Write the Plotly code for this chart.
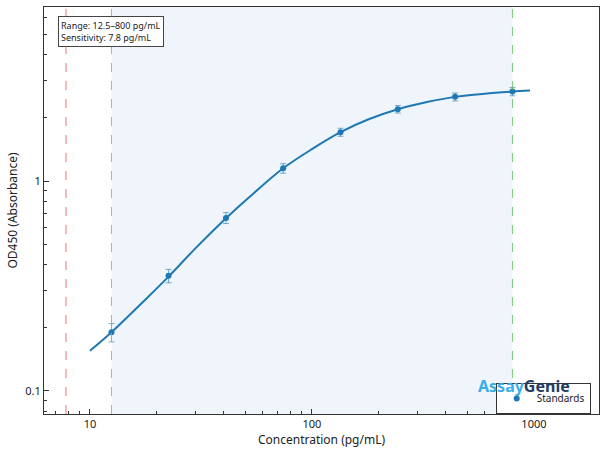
import plotly.graph_objects as go

# standards (pg/mL) and mean OD450
conc = [12.5, 22.6, 41.0, 74.2, 134.5, 243.6, 441.3, 800]
od = [0.190, 0.353, 0.667, 1.15, 1.71, 2.20, 2.52, 2.67]
od_err = [0.019, 0.026, 0.040, 0.060, 0.075, 0.090, 0.110, 0.120]

# fitted curve
curve_x = [10, 12.5, 17, 22.6, 30, 41, 55, 74.2, 100, 134.5, 180, 243.6, 330, 441.3, 600, 800, 960]
curve_y = [0.155, 0.190, 0.260, 0.350, 0.480, 0.665, 0.880, 1.15, 1.42, 1.71, 1.97, 2.20, 2.38, 2.52, 2.61, 2.67, 2.70]

sensitivity = 7.8
range_lo = 12.5
range_hi = 800

blue = "#1f77b4"
font = "Noto Sans"

# minor tick positions on the log axes
x_minor = [7, 8, 9, 20, 30, 40, 50, 60, 70, 80, 90, 200, 300, 400, 500, 600, 700, 800, 900]
y_minor = [0.08, 0.09, 0.2, 0.3, 0.4, 0.5, 0.6, 0.7, 0.8, 0.9, 2, 3, 4, 5, 6]

x_range = [0.793, 3.293]
y_range = [-1.111, 0.830]

fig = go.Figure()

fig.add_trace(go.Scatter(
    x=curve_x, y=curve_y, mode="lines", line=dict(color=blue, width=2, shape="spline"),
    showlegend=False, hoverinfo="skip"))

fig.add_trace(go.Scatter(
    x=conc, y=od, mode="markers", name="Standards",
    marker=dict(color=blue, size=6),
    error_y=dict(type="data", array=od_err, color="rgba(31,119,180,0.6)", thickness=1, width=3)))

# empty trace so the minor-tick axes get drawn
fig.add_trace(go.Scatter(x=[], y=[], xaxis="x2", yaxis="y2", showlegend=False, hoverinfo="skip"))

# assay range shading and reference lines
fig.add_vrect(x0=range_lo, x1=range_hi, fillcolor="rgba(31,119,180,0.07)", line_width=0, layer="below")
fig.add_vline(x=sensitivity, line=dict(color="rgba(235,90,90,0.7)", width=1.2, dash="dash"))
fig.add_vline(x=range_lo, line=dict(color="rgba(240,150,70,0.9)", width=1, dash="dash"))
fig.add_vline(x=range_hi, line=dict(color="rgba(90,190,90,0.8)", width=1, dash="dash"))

fig.add_annotation(
    xref="paper", yref="paper", x=0.025, y=0.977, xanchor="left", yanchor="top",
    text="Range: 12.5–800 pg/mL<br>Sensitivity: 7.8 pg/mL", showarrow=False, align="left",
    font=dict(size=9, color="#222", family=font), bgcolor="white",
    bordercolor="#444", borderwidth=1, borderpad=2)

fig.add_annotation(
    xref="paper", yref="paper", x=0.952, y=0.037, xanchor="right", yanchor="bottom",
    text="<b><span style='color:#3aaee6'>Assay</span><span style='color:#1f3d63'>Genie</span></b>",
    showarrow=False, font=dict(size=16, family=font))

axis_common = dict(
    type="log", showline=True, mirror=True, linecolor="#333", linewidth=1.2,
    ticks="inside", ticklen=5, tickcolor="#333", showgrid=False, zeroline=False,
    automargin=False,
    tickfont=dict(size=11, color="#222", family=font))

fig.update_xaxes(axis_common, range=x_range, dtick=1,
                 title=dict(text="Concentration (pg/mL)", font=dict(size=12, family=font, color="#222"), standoff=2))
fig.update_yaxes(axis_common, range=y_range, dtick=1,
                 title=dict(text="OD450 (Absorbance)", font=dict(size=12, family=font, color="#222"), standoff=4))

minor_common = dict(type="log", tickmode="array", ticks="inside", ticklen=3, tickcolor="#333",
                    showticklabels=False, showgrid=False, showline=False, zeroline=False,
                    automargin=False)

fig.update_layout(
    width=608, height=455, plot_bgcolor="white", paper_bgcolor="white",
    margin=dict(l=44, r=9, t=7, b=41),
    font=dict(family=font, size=11, color="#222"),
    xaxis2=dict(minor_common, overlaying="x", side="bottom", range=x_range, tickvals=x_minor),
    yaxis2=dict(minor_common, overlaying="y", side="left", range=y_range, tickvals=y_minor),
    legend=dict(x=0.985, y=0.0, xanchor="right", yanchor="bottom", bgcolor="white",
                bordercolor="#333", borderwidth=1, font=dict(size=10, family=font),
                itemwidth=30),
)

fig.write_html("out.html", config={"displayModeBar": False},
               post_script="document.body.style.margin='0';")
